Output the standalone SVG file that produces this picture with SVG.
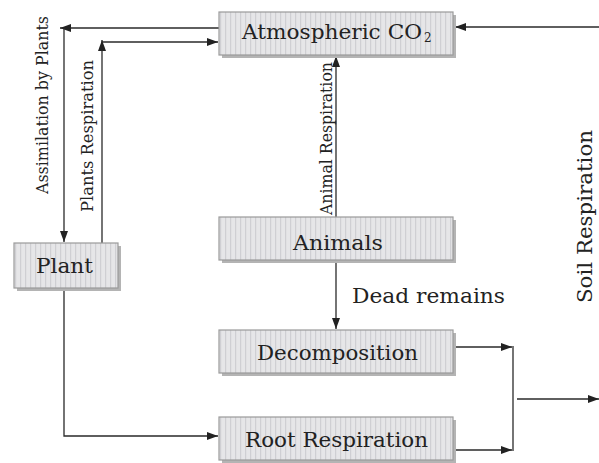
<svg xmlns="http://www.w3.org/2000/svg" width="599" height="463" viewBox="0 0 599 463">
<defs>
<pattern id="stripes" patternUnits="userSpaceOnUse" width="5" height="10">
<rect width="5" height="10" fill="#e6e6e8"/>
<rect x="0" width="1.2" height="10" fill="#cfcfd3"/>
</pattern>
<marker id="arr" viewBox="0 0 11 8" refX="11" refY="4" markerWidth="11" markerHeight="8" markerUnits="userSpaceOnUse" orient="auto">
<path d="M0,0 L11,4 L0,8 Z" fill="#222"/>
</marker>
</defs>
<style>
.shadow{fill:#b4b4b4}
.box{fill:url(#stripes);stroke:#9a9a9a;stroke-width:1.2}
.lbl{font-family:"DejaVu Serif","Liberation Serif",serif;font-size:20px;fill:#222}
.vl{font-family:"DejaVu Serif","Liberation Serif",serif;font-size:17.5px;fill:#222}
.con{fill:none;stroke:#2a2a2a;stroke-width:1.3}
.arr{marker-end:url(#arr)}
</style>
<g id="connectors">
<path class="con arr" d="M219,28 H60"/>
<path class="con arr" d="M64,28 V242"/>
<path class="con arr" d="M102,243 V40"/>
<path class="con arr" d="M102,42 H218"/>
<path class="con arr" d="M336,217 V56"/>
<path class="con arr" d="M336,262 V329"/>
<path class="con arr" d="M64,290 V436 H218"/>
<path class="con arr" d="M453,347 H512"/>
<path class="con arr" d="M453,450 H512"/>
<path class="con" d="M513,346 V451"/>
<path class="con arr" d="M517,399 H599"/>
<path class="con arr" d="M599,27 H455"/>
<text class="vl" transform="translate(48,194) rotate(-90)" textLength="178" lengthAdjust="spacingAndGlyphs">Assimilation by Plants</text>
<text class="vl" transform="translate(93,212) rotate(-90)" textLength="152" lengthAdjust="spacingAndGlyphs">Plants Respiration</text>
<text class="vl" transform="translate(332,215) rotate(-90)" textLength="153" lengthAdjust="spacingAndGlyphs">Animal Respiration</text>
<text class="lbl" x="352" y="303" textLength="153" lengthAdjust="spacingAndGlyphs">Dead remains</text>
<text class="lbl" transform="translate(592,303) rotate(-90)" textLength="173" lengthAdjust="spacingAndGlyphs">Soil Respiration</text>
</g>
<g id="co2">
<rect class="shadow" x="222" y="15" width="234" height="43"/>
<rect class="box" x="219" y="12" width="234" height="43"/>
<text class="lbl" x="242" y="39" textLength="180" lengthAdjust="spacingAndGlyphs">Atmospheric CO</text>
<text class="lbl" x="424" y="42" style="font-size:12px">2</text>
</g>
<g id="animals">
<rect class="shadow" x="222" y="220" width="234" height="43"/>
<rect class="box" x="219" y="217" width="234" height="43"/>
<text class="lbl" x="293" y="250" textLength="90" lengthAdjust="spacingAndGlyphs">Animals</text>
</g>
<g id="plant">
<rect class="shadow" x="17" y="246" width="104" height="45"/>
<rect class="box" x="14" y="243" width="104" height="45"/>
<text class="lbl" x="36" y="273" textLength="57" lengthAdjust="spacingAndGlyphs">Plant</text>
</g>
<g id="decomposition">
<rect class="shadow" x="222" y="333" width="234" height="43"/>
<rect class="box" x="219" y="330" width="234" height="43"/>
<text class="lbl" x="257" y="360" textLength="161" lengthAdjust="spacingAndGlyphs">Decomposition</text>
</g>
<g id="root">
<rect class="shadow" x="222" y="420" width="234" height="43"/>
<rect class="box" x="219" y="417" width="234" height="43"/>
<text class="lbl" x="245" y="447" textLength="183" lengthAdjust="spacingAndGlyphs">Root Respiration</text>
</g>
</svg>
